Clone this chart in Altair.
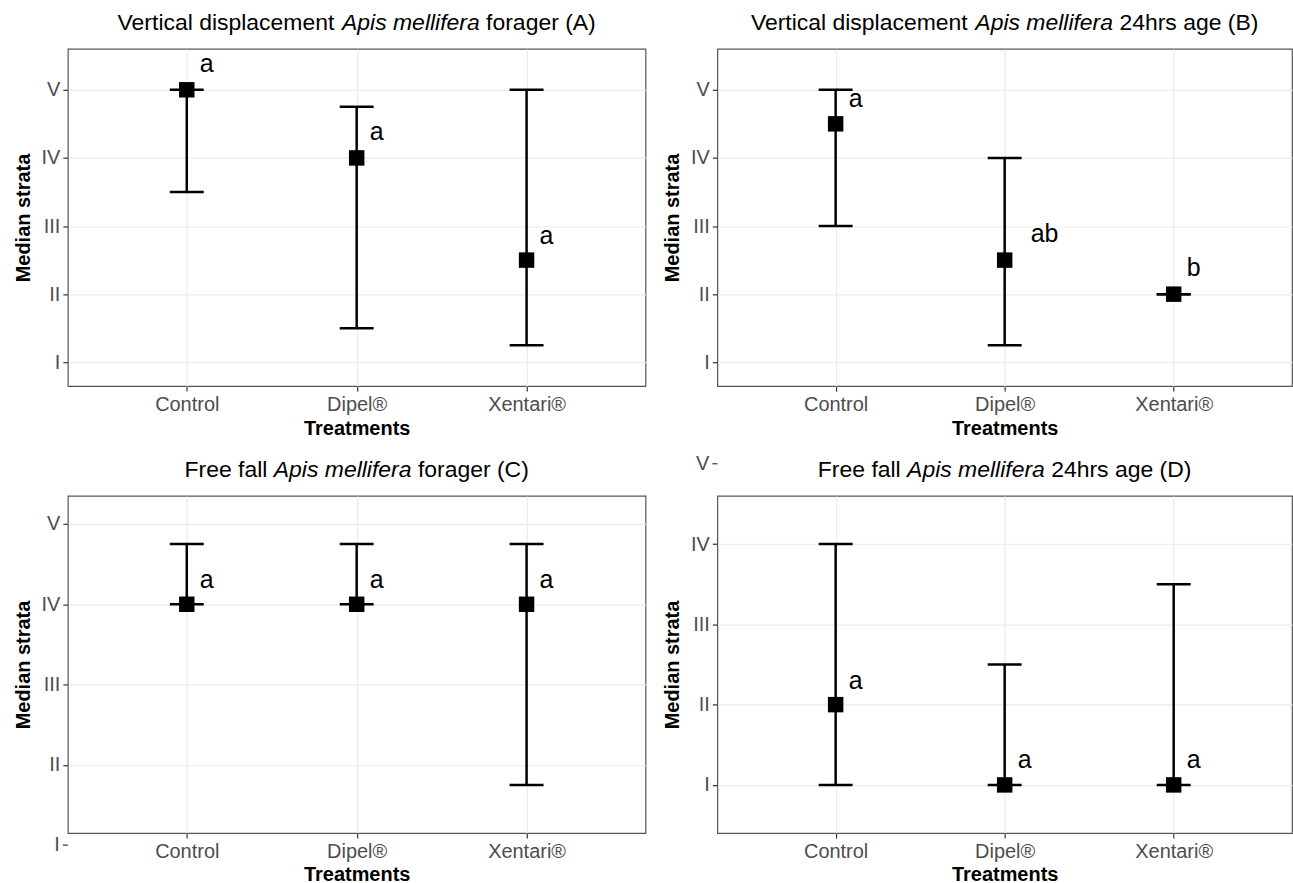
import altair as alt
import pandas as pd

treatments = ["Control", "Dipel®", "Xentari®"]

# Panel A: Vertical displacement, forager
a_median = [5.0, 4.0, 2.5]
a_low = [3.5, 1.5, 1.25]
a_high = [5.0, 4.75, 5.0]
a_lab_y = [5.38, 4.38, 2.85]
a_labels = ["a", "a", "a"]

# Panel B: Vertical displacement, 24hrs age
b_median = [4.5, 2.5, 2.0]
b_low = [3.0, 1.25, 2.0]
b_high = [5.0, 4.0, 2.0]
b_lab_y = [4.87, 2.88, 2.38]
b_labels = ["a", "ab", "b"]

# Panel C: Free fall, forager
c_median = [4.0, 4.0, 4.0]
c_low = [4.0, 4.0, 1.75]
c_high = [4.75, 4.75, 4.75]
c_lab_y = [4.3, 4.3, 4.3]
c_labels = ["a", "a", "a"]

# Panel D: Free fall, 24hrs age
d_median = [2.0, 1.0, 1.0]
d_low = [1.0, 1.0, 1.0]
d_high = [4.0, 2.5, 3.5]
d_lab_y = [2.3, 1.31, 1.31]
d_labels = ["a", "a", "a"]

roman_values = [1, 2, 3, 4, 5]
roman_labels = ["I", "II", "III", "IV", "V"]

FONT = "Liberation Sans"
TITLE_SIZE = 23
TICK_SIZE = 20

ARIAL_W = {' ': 278, '(': 333, ')': 333, '2': 556, '4': 556, 'A': 667, 'B': 667,
           'C': 722, 'D': 722, 'F': 611, 'V': 667, 'a': 556, 'b': 556, 'c': 500,
           'd': 556, 'e': 556, 'f': 278, 'g': 556, 'h': 556, 'i': 222, 'l': 222,
           'm': 833, 'n': 556, 'o': 556, 'p': 556, 'r': 333, 's': 500, 't': 278,
           'y': 500, 'u': 556, 'x': 500}


def text_w(s, size):
    return sum(ARIAL_W.get(ch, 556) for ch in s) * size / 1000.0


label_expr = "{1:'I',2:'II',3:'III',4:'IV',5:'V'}[datum.value]"


def panel(med, low, high, lab_y, labels, domain, parts, width, height,
          outside=None):
    df = pd.DataFrame({"treatment": treatments, "median": med, "low": low,
                       "high": high, "lab_y": lab_y, "label": labels})
    xenc = alt.X("treatment:N", sort=treatments,
                 scale=alt.Scale(type="point", padding=0.7),
                 axis=alt.Axis(title="Treatments", labelAngle=0))
    yscale = alt.Scale(domain=domain, nice=False, zero=False)
    yaxis = alt.Axis(title="Median strata", values=roman_values,
                     labelExpr=label_expr)
    base = alt.Chart(df).encode(x=xenc)
    bars = base.mark_rule(color="black", strokeWidth=2.5).encode(
        y=alt.Y("low:Q", scale=yscale, axis=yaxis), y2="high:Q")
    cap_lo = base.mark_tick(orient="horizontal", size=34, thickness=2.5,
                            color="black", opacity=1).encode(y="low:Q")
    cap_hi = base.mark_tick(orient="horizontal", size=34, thickness=2.5,
                            color="black", opacity=1).encode(y="high:Q")
    pts = base.mark_square(size=240, color="black", opacity=1).encode(y="median:Q")
    txt1 = base.transform_filter("length(datum.label) < 2").mark_text(
        dx=20, fontSize=25, font=FONT, baseline="middle", color="black").encode(
        y="lab_y:Q", text="label:N")
    txt2 = base.transform_filter("length(datum.label) >= 2").mark_text(
        dx=40, fontSize=25, font=FONT, baseline="middle", color="black").encode(
        y="lab_y:Q", text="label:N")
    layers = [bars, cap_lo, cap_hi, pts, txt1, txt2]

    # title made of three pieces (middle one italic)
    sp = text_w(" ", TITLE_SIZE)
    w1, w2, w3 = (text_w(p, TITLE_SIZE) for p in parts)
    total = w1 + sp + w2 + sp + w3
    start = width / 2 - total / 2
    xs = [start, start + w1 + sp, start + w1 + sp + w2 + sp]
    styles = ["normal", "italic", "normal"]
    for p, xp, st in zip(parts, xs, styles):
        layers.append(
            alt.Chart(pd.DataFrame({"t": [p]})).mark_text(
                align="left", baseline="alphabetic", fontSize=TITLE_SIZE,
                font=FONT, fontStyle=st, color="black").encode(
                text="t:N", x=alt.value(xp), y=alt.value(-19)))

    if outside is not None:
        odf = pd.DataFrame({"v": [outside],
                            "lab": [roman_labels[roman_values.index(outside)]]})
        layers.append(alt.Chart(odf).mark_text(
            align="right", baseline="middle", fontSize=TICK_SIZE, font=FONT,
            color="#4D4D4D").encode(x=alt.value(-8), y=alt.Y("v:Q"), text="lab:N"))
        layers.append(alt.Chart(odf).mark_rule(color="#333333", strokeWidth=1.2).encode(
            x=alt.value(-5), x2=alt.value(0), y=alt.Y("v:Q")))

    return alt.layer(*layers).properties(width=width, height=height)


W1, W2, H = 579, 576, 338
pA = panel(a_median, a_low, a_high, a_lab_y, a_labels, [0.65, 5.6],
           ["Vertical displacement", "Apis mellifera", "forager (A)"], W1, H)
pB = panel(b_median, b_low, b_high, b_lab_y, b_labels, [0.65, 5.6],
           ["Vertical displacement", "Apis mellifera", "24hrs age (B)"], W2, H)
pC = panel(c_median, c_low, c_high, c_lab_y, c_labels, [1.15, 5.35],
           ["Free fall", "Apis mellifera", "forager (C)"], W1, H, outside=1)
pD = panel(d_median, d_low, d_high, d_lab_y, d_labels, [0.4, 4.6],
           ["Free fall", "Apis mellifera", "24hrs age (D)"], W2, H, outside=5)

chart = alt.vconcat(
    alt.hconcat(pA, pB, spacing=15).resolve_scale(y="independent"),
    alt.hconcat(pC, pD, spacing=15).resolve_scale(y="independent"),
    spacing=14,
).resolve_scale(y="independent").properties(
    padding={"left": 12, "top": 10, "right": 0, "bottom": 0},
    background="white",
).configure_view(
    stroke="#555555", strokeWidth=1.2
).configure_axis(
    domain=False, grid=True, gridColor="#EBEBEB", gridWidth=1.2,
    tickColor="#333333", tickSize=5, tickWidth=1.2,
    labelFont=FONT, labelFontSize=TICK_SIZE, labelColor="#4D4D4D", labelPadding=3,
    titleFont=FONT, titleFontSize=20, titleFontWeight="bold", titleColor="black",
).configure_axisX(titlePadding=4).configure_axisY(titlePadding=8)

chart.save("out.html", embed_options={"renderer": "svg", "actions": False})
